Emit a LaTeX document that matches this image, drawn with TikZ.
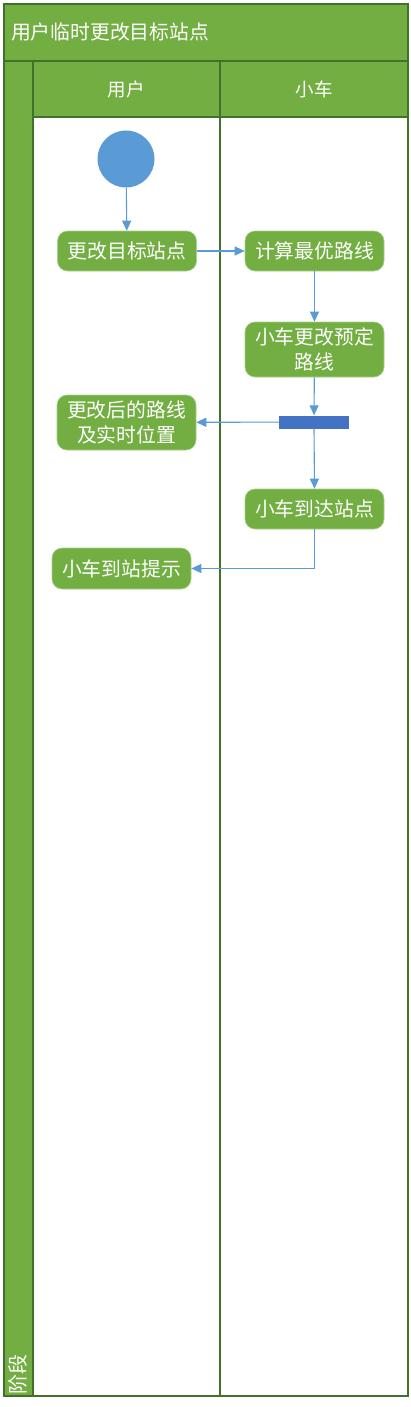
\documentclass[tikz,border=0pt]{standalone}
\usepackage{fontspec}
\newfontfamily\cjk{Noto Sans CJK SC}
\usetikzlibrary{arrows.meta}
\definecolor{lanegreen}{HTML}{72AE42}
\definecolor{darkline}{HTML}{41712A}
\definecolor{flowblue}{HTML}{5B9BD5}
\definecolor{barblue}{HTML}{4472C4}
\definecolor{nodeedge}{HTML}{A9D18E}
\begin{document}
\begin{tikzpicture}[x=1pt,y=-1pt,
  band/.style={fill=lanegreen,draw=darkline,line width=1.2pt},
  act/.style={rounded corners=10pt,fill=lanegreen,draw=nodeedge,line width=0.6pt,
    text=white,font=\cjk\fontsize{19.8}{25}\selectfont,align=center,
    minimum width=139pt,inner sep=0pt},
  flow/.style={draw=flowblue,line width=1.1pt,-{Triangle[length=10pt,width=9pt]}},
  hdr/.style={text=white,font=\cjk\fontsize{18.5}{20}\selectfont,inner sep=0pt}]
\useasboundingbox (0,0) rectangle (410,1407);
% frame
\path[fill=white] (4,4) rectangle (408,1396);
\draw[band] (4,4) rectangle (408,61);
\draw[band] (4,61) rectangle (33,1396);
\draw[band] (33,61) rectangle (408,117);
\draw[darkline,line width=1.2pt] (33,117) rectangle (408,1396);
\draw[darkline,line width=1.2pt] (220,61) -- (220,1396);
\node[hdr,anchor=west,font=\cjk\fontsize{19.8}{22}\selectfont] (title) at (11,32) {用户临时更改目标站点};
\node[hdr] (laneA) at (126,89) {用户};
\node[hdr] (laneB) at (314,89) {小车};
\node[hdr,rotate=90,anchor=west,font=\cjk\fontsize{20}{22}\selectfont] (phase) at (18,1395) {阶段};
% nodes
\node[circle,fill=flowblue,minimum size=57pt,inner sep=0pt] (start) at (126,159) {};
\node[act,minimum height=40pt] (a1) at (127,251) {更改目标站点};
\node[act,minimum height=40pt] (b1) at (314.5,251) {计算最优路线};
\node[act,minimum height=55pt] (b2) at (314.5,349.5) {小车更改预定\\路线};
\node[fill=barblue,minimum width=70pt,minimum height=13pt,inner sep=0pt] (bar) at (314,422) {};
\node[act,minimum height=55pt] (a2) at (126.5,422.5) {更改后的路线\\及实时位置};
\node[act,minimum height=40pt] (b3) at (314.5,509) {小车到达站点};
\node[act,minimum height=41pt] (a3) at (121.5,568.5) {小车到站提示};
% connectors
\draw[flow] (start) -- (a1);
\draw[flow] (a1) -- (b1);
\draw[flow] (b1) -- (b2);
\draw[flow] (b2) -- (bar);
\draw[flow] (bar) -- (a2);
\draw[flow] (bar.south) -- (b3.north);
\draw[flow] (b3.south) |- (a3.east);
\end{tikzpicture}
\end{document}
